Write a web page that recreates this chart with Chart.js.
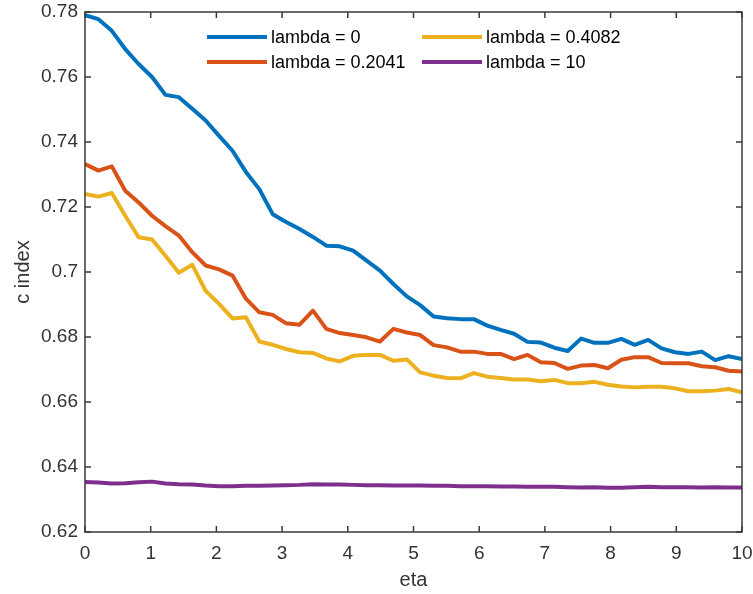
<!DOCTYPE html>
<html>
<head>
<meta charset="utf-8">
<title>c index vs eta</title>
<script src="https://cdn.jsdelivr.net/npm/chart.js@4"></script>
<style>
    body { margin: 0; background: #fff; }
    canvas { display: block; }
</style>
</head>
<body>
<canvas id="myChart" width="753" height="594"></canvas>
<script>
"use strict";

// eta grid (50 steps from 0 to 10)
const etaValues = [
    0, 0.2041, 0.4082, 0.6122, 0.8163, 1.0204, 1.2245, 1.4286, 1.6327, 1.8367,
    2.0408, 2.2449, 2.4490, 2.6531, 2.8571, 3.0612, 3.2653, 3.4694, 3.6735, 3.8776,
    4.0816, 4.2857, 4.4898, 4.6939, 4.8980, 5.1020, 5.3061, 5.5102, 5.7143, 5.9184,
    6.1224, 6.3265, 6.5306, 6.7347, 6.9388, 7.1429, 7.3469, 7.5510, 7.7551, 7.9592,
    8.1633, 8.3673, 8.5714, 8.7755, 8.9796, 9.1837, 9.3878, 9.5918, 9.7959, 10
];

// c index per lambda
const cLambda0 = [
    0.7790, 0.7778, 0.7742, 0.7686, 0.7640, 0.7600, 0.7545, 0.7538, 0.7502, 0.7466,
    0.7419, 0.7373, 0.7308, 0.7255, 0.7178, 0.7154, 0.7132, 0.7108, 0.7081, 0.7079,
    0.7066, 0.7035, 0.7004, 0.6963, 0.6925, 0.6898, 0.6863, 0.6858, 0.6855, 0.6855,
    0.6835, 0.6822, 0.6810, 0.6785, 0.6783, 0.6767, 0.6757, 0.6795, 0.6782, 0.6782,
    0.6794, 0.6776, 0.6791, 0.6765, 0.6753, 0.6748, 0.6755, 0.6729, 0.6741, 0.6732
];
const cLambda02041 = [
    0.7332, 0.7312, 0.7325, 0.7250, 0.7214, 0.7173, 0.7141, 0.7112, 0.7061, 0.7020,
    0.7008, 0.6989, 0.6918, 0.6876, 0.6868, 0.6842, 0.6838, 0.6881, 0.6825, 0.6812,
    0.6806, 0.6799, 0.6786, 0.6825, 0.6814, 0.6806, 0.6775, 0.6768, 0.6755, 0.6755,
    0.6748, 0.6748, 0.6732, 0.6745, 0.6722, 0.6720, 0.6702, 0.6712, 0.6714, 0.6704,
    0.6730, 0.6738, 0.6738, 0.6720, 0.6719, 0.6719, 0.6710, 0.6707, 0.6696, 0.6694
];
const cLambda04082 = [
    0.7240, 0.7232, 0.7243, 0.7173, 0.7107, 0.7100, 0.7050, 0.6998, 0.7022, 0.6942,
    0.6902, 0.6857, 0.6861, 0.6786, 0.6776, 0.6763, 0.6753, 0.6751, 0.6734, 0.6725,
    0.6742, 0.6745, 0.6745, 0.6727, 0.6731, 0.6691, 0.6681, 0.6674, 0.6673, 0.6689,
    0.6678, 0.6674, 0.6669, 0.6669, 0.6664, 0.6668, 0.6658, 0.6658, 0.6662, 0.6653,
    0.6648, 0.6645, 0.6647, 0.6647, 0.6642, 0.6633, 0.6633, 0.6635, 0.6640, 0.6630
];
const cLambda10 = [
    0.6354, 0.6352, 0.6349, 0.6350, 0.6353, 0.6355, 0.6349, 0.6347, 0.6346, 0.6343,
    0.6341, 0.6341, 0.6342, 0.6342, 0.6343, 0.6344, 0.6345, 0.6347, 0.6346, 0.6346,
    0.6345, 0.6344, 0.6344, 0.6343, 0.6343, 0.6343, 0.6342, 0.6342, 0.6341, 0.6341,
    0.6341, 0.6340, 0.6340, 0.6339, 0.6339, 0.6339, 0.6338, 0.6337, 0.6338, 0.6336,
    0.6336, 0.6338, 0.6339, 0.6338, 0.6338, 0.6338, 0.6337, 0.6338, 0.6337, 0.6337
];

const seriesLabels = ["lambda = 0", "lambda = 0.2041", "lambda = 0.4082", "lambda = 10"];
const seriesValues = [cLambda0, cLambda02041, cLambda04082, cLambda10];
const seriesColors = ["#0072BD", "#D95319", "#EDB120", "#7E2F8E"];

const axisColor = "#333333";
const tickFont = { family: "'Liberation Sans', Arial, sans-serif", size: 19 };

// box around the axes with inward ticks on all four sides
const boxPlugin = {
    id: "axesBox",
    afterDraw(chart) {
        const ctx = chart.ctx;
        const a = chart.chartArea;
        const xs = chart.scales.x;
        const ys = chart.scales.y;
        const len = 6;
        ctx.save();
        ctx.strokeStyle = "#3a3a3a";
        ctx.lineWidth = 1.5;
        ctx.strokeRect(a.left, a.top, a.right - a.left, a.bottom - a.top);
        ctx.beginPath();
        xs.ticks.forEach(t => {
            const px = xs.getPixelForValue(t.value);
            ctx.moveTo(px, a.bottom); ctx.lineTo(px, a.bottom - len);
            ctx.moveTo(px, a.top); ctx.lineTo(px, a.top + len);
        });
        ys.ticks.forEach(t => {
            const py = ys.getPixelForValue(t.value);
            ctx.moveTo(a.left, py); ctx.lineTo(a.left + len, py);
            ctx.moveTo(a.right, py); ctx.lineTo(a.right - len, py);
        });
        ctx.stroke();
        ctx.restore();
    }
};

// two-column legend inside the plot
const legendPlugin = {
    id: "boxLegend",
    afterDatasetsDraw(chart) {
        const ctx = chart.ctx;
        const cols = [{ x: 207, items: [0, 1] }, { x: 422, items: [2, 3] }];
        const rows = [37, 62];
        ctx.save();
        ctx.font = "18px 'Liberation Sans', Arial, sans-serif";
        ctx.textBaseline = "middle";
        ctx.fillStyle = "#000";
        cols.forEach(col => {
            col.items.forEach((di, r) => {
                const ds = chart.data.datasets[di];
                ctx.strokeStyle = ds.borderColor;
                ctx.lineWidth = 4;
                ctx.beginPath();
                ctx.moveTo(col.x, rows[r]);
                ctx.lineTo(col.x + 60, rows[r]);
                ctx.stroke();
                ctx.fillText(ds.label, col.x + 64, rows[r] + 1);
            });
        });
        ctx.restore();
    }
};

const datasets = seriesValues.map((vals, i) => ({
    label: seriesLabels[i],
    data: etaValues.map((x, j) => ({ x: x, y: vals[j] })),
    borderColor: seriesColors[i],
    backgroundColor: seriesColors[i],
    borderWidth: 4,
    pointRadius: 0,
    tension: 0,
    borderJoinStyle: "round",
    fill: false
}));

const ctx = document.getElementById("myChart").getContext("2d");
new Chart(ctx, {
    type: "line",
    data: { datasets: datasets },
    options: {
        responsive: false,
        animation: false,
        layout: { padding: { left: 0, right: 11, top: 12, bottom: 0 } },
        plugins: {
            legend: { display: false },
            tooltip: { enabled: false }
        },
        scales: {
            x: {
                type: "linear",
                min: 0,
                max: 10,
                grid: { display: false, drawTicks: false },
                border: { display: false },
                ticks: { stepSize: 1, color: axisColor, font: tickFont, padding: 10, maxRotation: 0 },
                title: {
                    display: true,
                    text: "eta",
                    color: axisColor,
                    font: { family: tickFont.family, size: 20 },
                    padding: { top: 0, bottom: 2 }
                },
                afterFit(scale) {
                    scale.height = 62;
                    scale.paddingLeft = 0;
                    scale.paddingRight = 0;
                }
            },
            y: {
                type: "linear",
                min: 0.62,
                max: 0.78,
                grid: { display: false, drawTicks: false },
                border: { display: false },
                ticks: {
                    stepSize: 0.02,
                    color: axisColor,
                    font: tickFont,
                    padding: 7,
                    callback: v => parseFloat(v.toFixed(2)).toString()
                },
                title: {
                    display: true,
                    text: "c index",
                    color: axisColor,
                    font: { family: tickFont.family, size: 20 },
                    padding: { top: 11, bottom: 0 }
                },
                afterFit(scale) {
                    scale.width = 85;
                    scale.paddingTop = 0;
                    scale.paddingBottom = 0;
                }
            }
        }
    },
    plugins: [boxPlugin, legendPlugin]
});
</script>
</body>
</html>
